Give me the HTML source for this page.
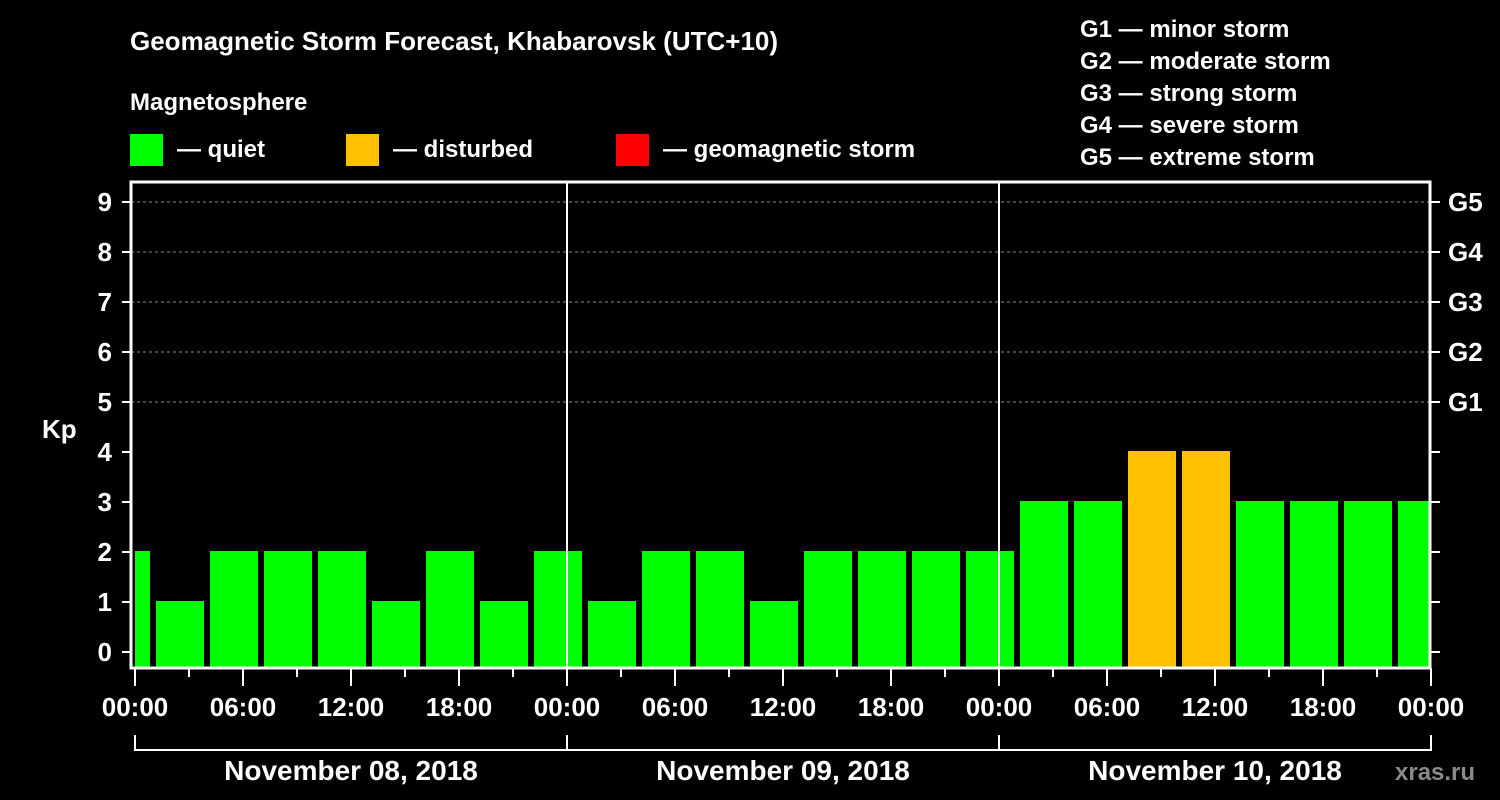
<!DOCTYPE html>
<html><head><meta charset="utf-8"><style>
body{margin:0;background:#000;width:1500px;height:800px;overflow:hidden}
svg{display:block}
text{font-family:"Liberation Sans",Arial,sans-serif;font-weight:bold;fill:#fff}
</style></head><body>
<svg id="chart" width="1500" height="800" viewBox="0 0 1500 800">
<text x="130" y="50" font-size="26">Geomagnetic Storm Forecast, Khabarovsk (UTC+10)</text>
<text x="130" y="110" font-size="24">Magnetosphere</text>
<g><rect x="130" y="134" width="33" height="32" fill="#00ff00"/><text x="177" y="157" font-size="24">— quiet</text></g>
<g><rect x="346" y="134" width="33" height="32" fill="#ffc000"/><text x="393" y="157" font-size="24">— disturbed</text></g>
<g><rect x="616" y="134" width="33" height="32" fill="#ff0000"/><text x="663" y="157" font-size="24">— geomagnetic storm</text></g>
<g font-size="24">
<text x="1080" y="37">G1 — minor storm</text>
<text x="1080" y="69">G2 — moderate storm</text>
<text x="1080" y="101">G3 — strong storm</text>
<text x="1080" y="133">G4 — severe storm</text>
<text x="1080" y="165">G5 — extreme storm</text>
</g>
<text x="42" y="438" font-size="26">Kp</text>
<text x="1395" y="780" font-size="24" fill="#888" style="fill:#8a8a8a">xras.ru</text>
<g id="plot"></g>
</svg>
<script>
const kpValues=[2,1,2,2,2,1,2,1,2,1,2,2,1,2,2,2,2,3,3,4,4,3,3,3,3];
const yTicks=[0,1,2,3,4,5,6,7,8,9];
const gLabels=["G1","G2","G3","G4","G5"];
const xTickLabels=["00:00","06:00","12:00","18:00","00:00","06:00","12:00","18:00","00:00","06:00","12:00","18:00","00:00"];
const dayLabels=["November 08, 2018","November 09, 2018","November 10, 2018"];
const firstBarHour=-2, barHours=3;
const NS="http://www.w3.org/2000/svg";
const L=131,R=1430,T=182,B=668,X0=135,PXH=18;
const xs=h=>X0+h*PXH, ys=v=>652-v*50;
const g=document.getElementById('plot');
function el(t,a,p){const e=document.createElementNS(NS,t);for(const k in a)e.setAttribute(k,a[k]);(p||g).appendChild(e);return e;}
// grid
yTicks.forEach(v=>{if(v>=5){const l=el('line',{x1:L,x2:R,y1:ys(v),y2:ys(v),stroke:'#888','stroke-dasharray':'3,3'});}});
// bars
const clip=el('clipPath',{id:'cp'});el('rect',{x:L+4,y:T,width:R-L-5,height:B-T},clip);
const bg=el('g',{'clip-path':'url(#cp)'});
kpValues.forEach((v,i)=>{const h0=firstBarHour+i*barHours;const x1=xs(h0)+3,x2=xs(h0+barHours)-3;
const col=v>=5?'#ff0000':(v>=4?'#ffc000':'#00ff00');
const r=el('rect',{x:x1,y:ys(v)-1,width:x2-x1,height:B-1-(ys(v)-1),fill:col},bg);
});
// day separators
[1,2].forEach(d=>{const l=el('line',{x1:xs(24*d),x2:xs(24*d),y1:T,y2:B,stroke:'#fff','stroke-width':2});});
// frame
const f=el('path',{d:`M${R} ${T} H${L} V${B} H${R} Z`,fill:'none',stroke:'#fff','stroke-width':3});

// y ticks
yTicks.forEach(v=>{el('line',{x1:122,x2:L,y1:ys(v),y2:ys(v),stroke:'#fff','stroke-width':2});el('line',{x1:R,x2:1440,y1:ys(v),y2:ys(v),stroke:'#fff','stroke-width':2});
const t=el('text',{x:112,y:ys(v)+9,'font-size':26,'text-anchor':'end'});t.textContent=v;});
gLabels.forEach((s,i)=>{const t=el('text',{x:1448,y:ys(5+i)+9,'font-size':26});t.textContent=s;});
// x ticks
for(let h=0;h<=72;h+=3){el('line',{x1:xs(h),x2:xs(h),y1:B,y2:h%6==0?686:677,stroke:'#fff','stroke-width':2});}
xTickLabels.forEach((s,i)=>{const t=el('text',{x:xs(i*6),y:716,'font-size':26,'text-anchor':'middle'});t.textContent=s;});
// day brackets
el('path',{d:`M${xs(0)} 735 V750 H${xs(72)} V735 M${xs(24)} 735 V750 M${xs(48)} 735 V750`,fill:'none',stroke:'#fff','stroke-width':2});
dayLabels.forEach((s,i)=>{const t=el('text',{x:xs(24*i+12),y:780,'font-size':28,'text-anchor':'middle'});t.textContent=s;});
</script>
</body></html>
